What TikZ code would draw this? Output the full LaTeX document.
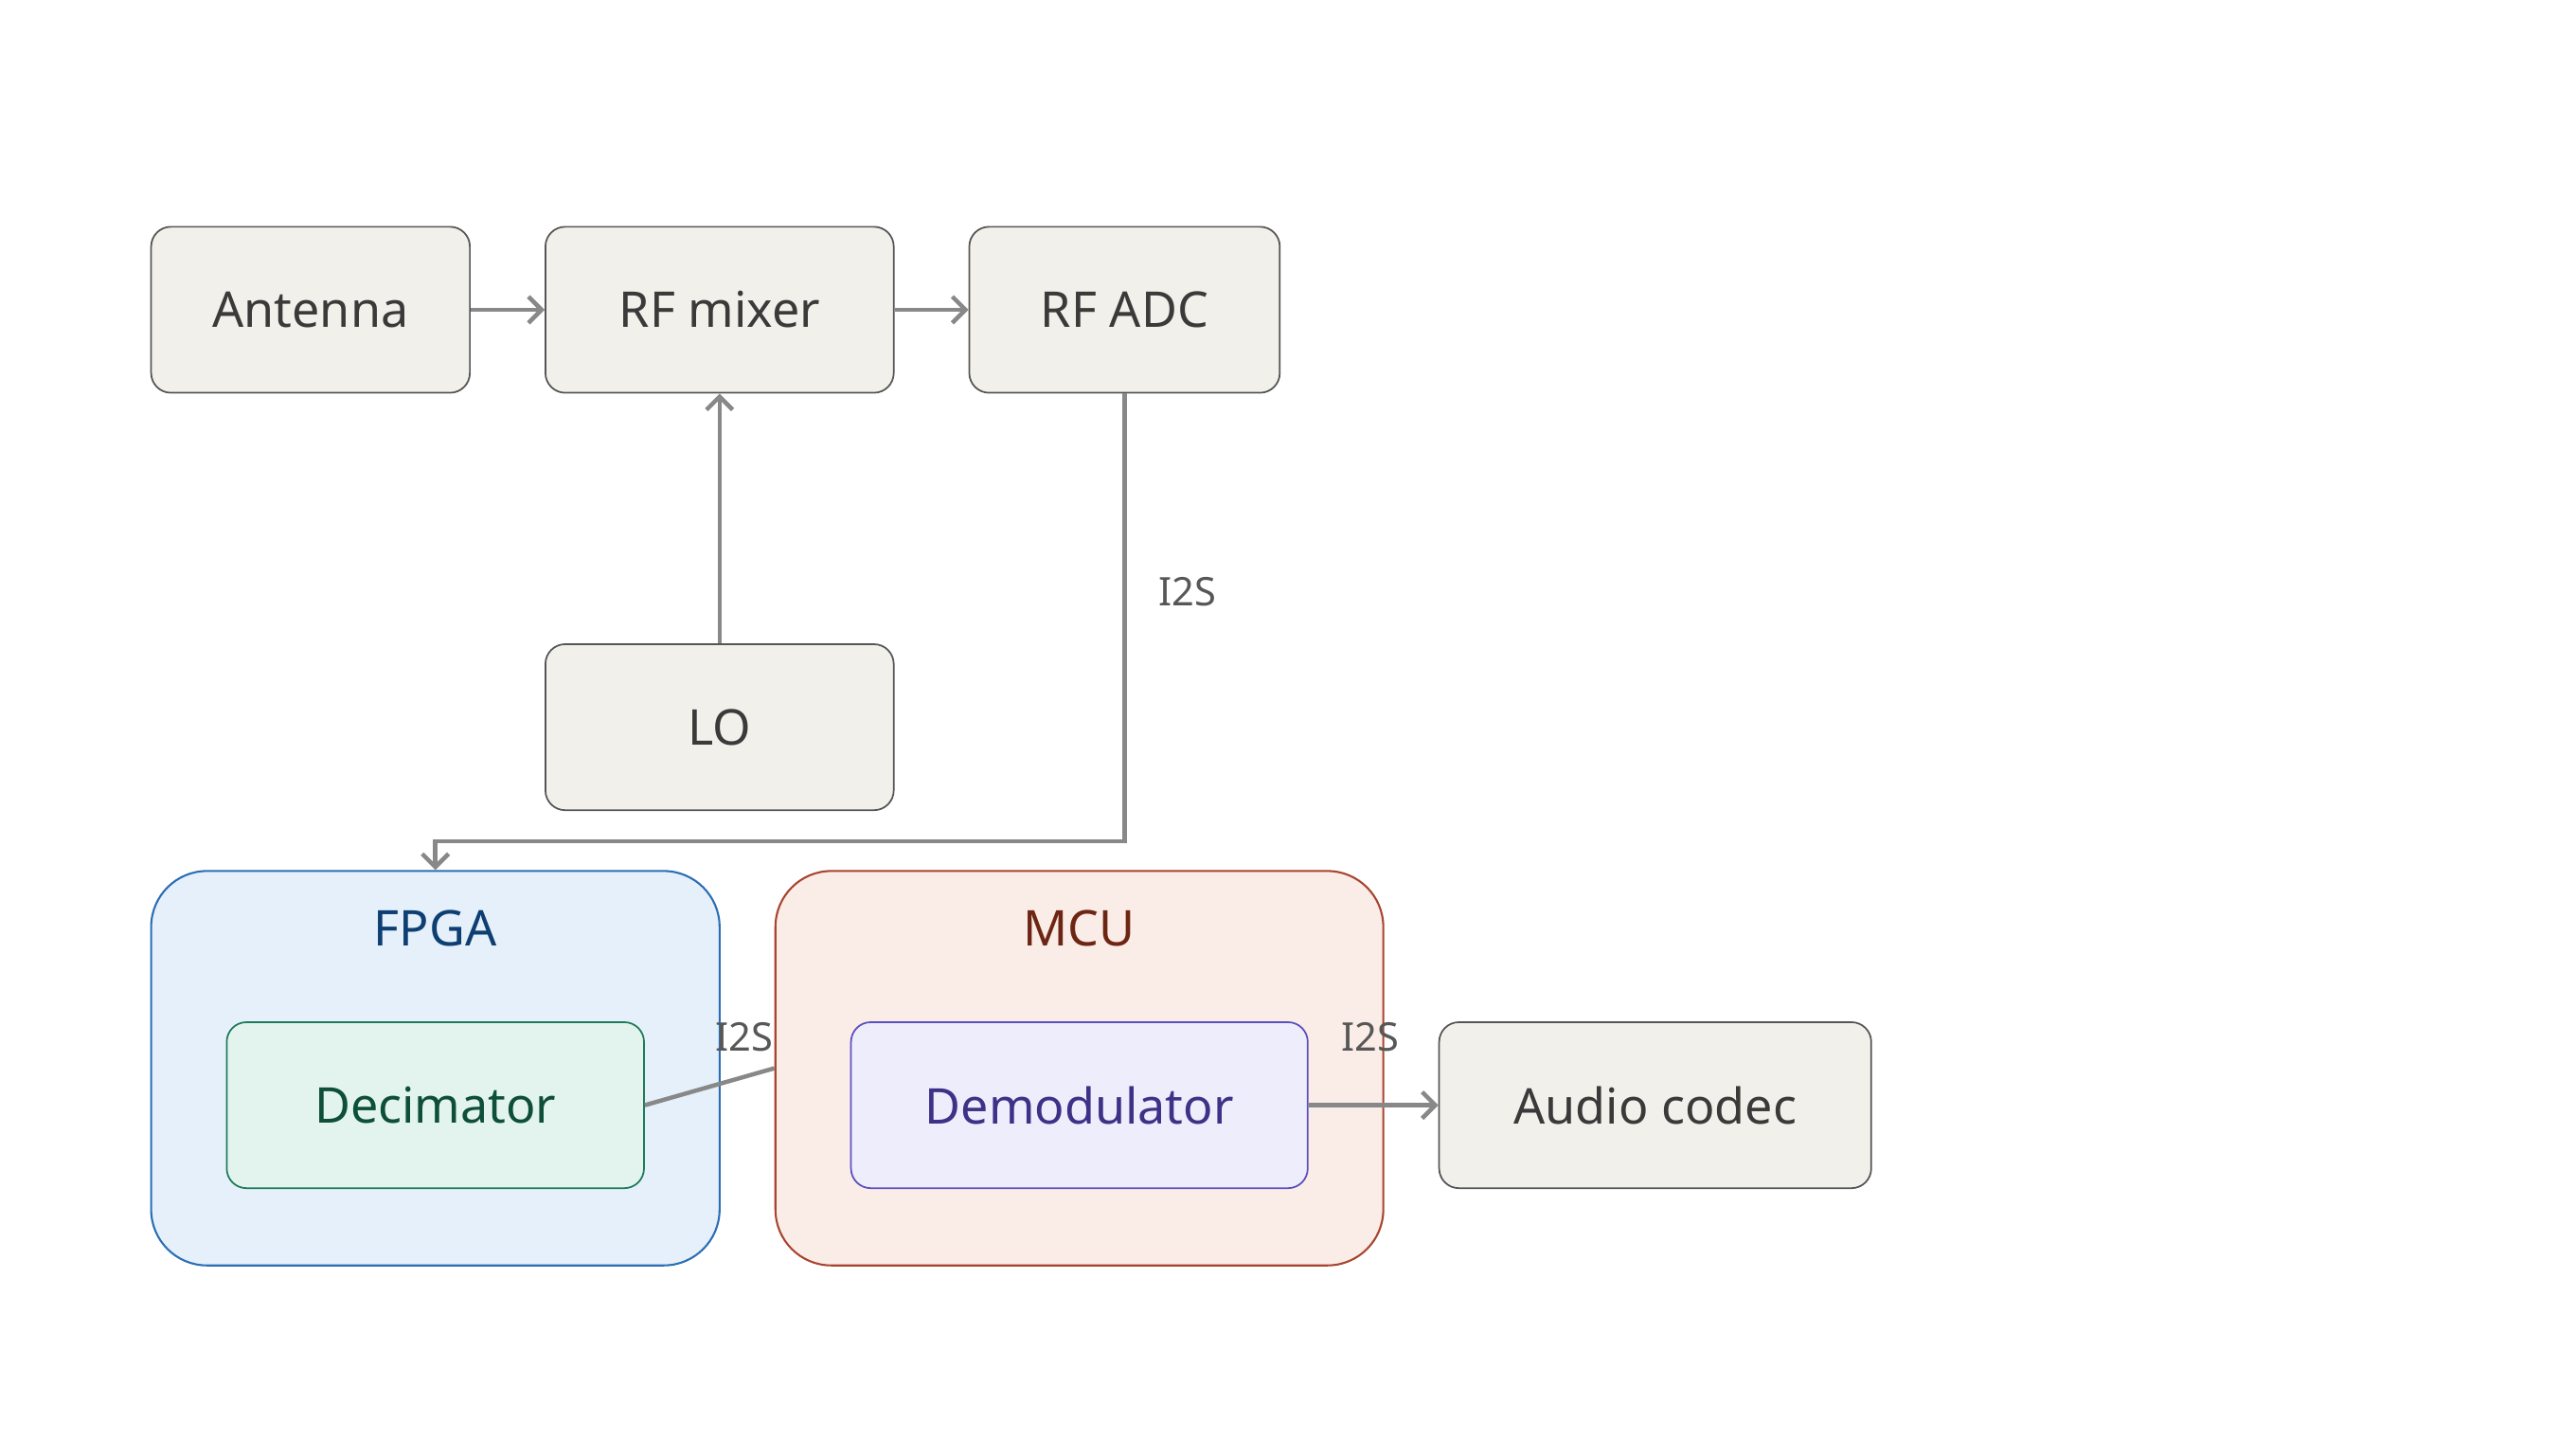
\documentclass[tikz,border=0pt]{standalone}
\usepackage{fontspec}
\setmainfont{Noto Sans}
\usetikzlibrary{arrows.meta}
\definecolor{boxfill}{HTML}{F2F0EA}
\definecolor{boxline}{HTML}{555555}
\definecolor{txt}{HTML}{3A3A3A}
\definecolor{arr}{HTML}{888888}
\definecolor{fpgaF}{HTML}{E6F0FA}\definecolor{fpgaL}{HTML}{2A6EB5}\definecolor{fpgaT}{HTML}{0D3F73}
\definecolor{decF}{HTML}{E3F4EE}\definecolor{decL}{HTML}{1F7A5A}\definecolor{decT}{HTML}{0E4F3A}
\definecolor{mcuF}{HTML}{FAECE6}\definecolor{mcuL}{HTML}{A84430}\definecolor{mcuT}{HTML}{6E2614}
\definecolor{demF}{HTML}{EEEDFB}\definecolor{demL}{HTML}{5B4FC0}\definecolor{demT}{HTML}{3E3187}
\tikzset{
 blk/.style={draw=boxline,fill=boxfill,text=txt,rounded corners=6pt,line width=0.5pt,font=\fontsize{15}{18}\selectfont,inner sep=0pt},
 grp/.style={rounded corners=17pt,line width=0.6pt,inner sep=0pt},
 ttl/.style={font=\fontsize{15}{18}\selectfont},
 lab/.style={font=\fontsize{12}{14}\selectfont,text=txt!85},
 conn/.style={draw=arr,line width=1.3pt,-{Straight Barb[length=4pt,width=8pt]}},
 plain/.style={draw=arr,line width=1.3pt}
}
\begin{document}
\begin{tikzpicture}[x=0.5pt,y=-0.5pt]
\useasboundingbox (0,0) rectangle (1568,876);
\node[blk,minimum width=97pt,minimum height=50.5pt] (ant) at (189,188.5) {Antenna};
\node[blk,minimum width=106pt,minimum height=50.5pt] (mix) at (438,188.5) {RF mixer};
\node[blk,minimum width=94.5pt,minimum height=50.5pt] (adc) at (684.5,188.5) {RF ADC};
\node[blk,minimum width=106pt,minimum height=50.5pt] (lo) at (438,442.5) {LO};
\node[grp,draw=fpgaL,fill=fpgaF,minimum width=173pt,minimum height=120pt] (fpga) at (265,650) {};
\node[ttl,text=fpgaT] (fpgat) at (265,565) {FPGA};
\node[blk,draw=decL,fill=decF,text=decT,minimum width=127pt,minimum height=50.5pt] (dec) at (265,672.5) {Decimator};
\node[grp,draw=mcuL,fill=mcuF,minimum width=185pt,minimum height=120pt] (mcu) at (657,650) {};
\node[ttl,text=mcuT] (mcut) at (657,565) {MCU};
\node[blk,draw=demL,fill=demF,text=demT,minimum width=139pt,minimum height=50.5pt] (dem) at (657,672.5) {Demodulator};
\node[blk,minimum width=131.5pt,minimum height=50.5pt] (aud) at (1007.5,672.5) {Audio codec};
\draw[conn] (ant) -- (mix);
\draw[conn] (mix) -- (adc);
\draw[conn] (lo) -- (mix);
\coordinate (c1) at (684.5,512);
\coordinate (c2) at (265,512);
\draw[conn] (adc.south) -- (c1) -- (c2) -- (fpga.north);
\node[lab] (l1) at (723,360) {I2S};
\draw[plain] (dec.east) -- (mcu.west);
\node[lab] (l2) at (453,631) {I2S};
\draw[conn] (dem.east) -- (aud.west);
\node[lab] (l3) at (834,631) {I2S};
\end{tikzpicture}
\end{document}
